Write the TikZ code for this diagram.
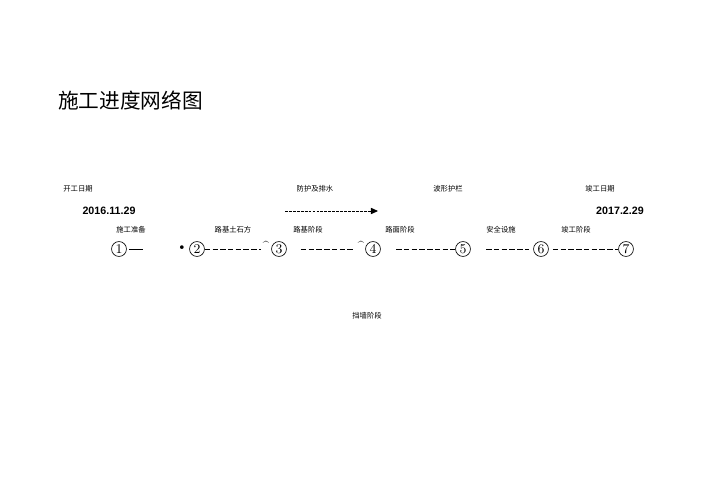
\documentclass[tikz,border=0pt]{standalone}
\usepackage{fontspec}
\setmainfont{Latin Modern Roman}
\newfontfamily\cjk{Noto Sans CJK SC}
\newfontfamily\arial{Liberation Sans}
\usepackage{tikz}
\usetikzlibrary{arrows.meta}

\tikzset{
    etiquette/.style={font=\cjk\fontsize{5.2}{6}\selectfont, inner sep=0pt},
    date/.style={font=\arial\bfseries\fontsize{7.6}{9}\selectfont, inner sep=0pt},
    etape/.style={circle, draw, line width=0.45pt, minimum size=10.6pt, inner sep=0pt,
        font=\fontsize{9.5}{10}\selectfont},
    tiret/.style={line width=0.45pt, dash pattern=on 3.9pt off 1.6pt},
    fleche/.style={line width=0.6pt, dash pattern=on 2pt off 0.8pt,
        -{Triangle[length=5pt,width=4.4pt]}}
}

\begin{document}
\begin{tikzpicture}[x=0.025cm, y=-0.025cm]
                \useasboundingbox (0,0) rectangle (708,500);

                % Titre
                \node[anchor=west, inner sep=0pt, font=\cjk\fontsize{14.7}{16}\selectfont] (titre) at (58,101) {施工进度网络图};

                % Dates et labels du haut
                \node[etiquette] (debut) at (78,189) {开工日期};
                \node[date] (d1) at (109,211) {2016.11.29};
                \node[etiquette] (protec) at (315,189) {防护及排水};
                \node[etiquette] (garde) at (448,189) {波形护栏};
                \node[etiquette] (fin) at (600,189) {竣工日期};
                \node[date] (d2) at (620,211) {2017.2.29};

                % Fleche en pointillés
                \coordinate (a1) at (285,211);
                \coordinate (a2) at (378,211);
                \draw[fleche] (a1) -- (a2);

                % Labels des phases
                \node[etiquette] (prep) at (131,230) {施工准备};
                \node[etiquette] (terr) at (233,230) {路基土石方};
                \node[etiquette] (assise) at (308,230) {路基阶段};
                \node[etiquette] (chaus) at (400,230) {路面阶段};
                \node[etiquette] (secu) at (501,230) {安全设施};
                \node[etiquette] (recep) at (576,230) {竣工阶段};
                \node[etiquette] (mur) at (367,316) {挡墙阶段};

                % Les étapes
                \foreach \n/\x in {1/119,2/197,3/279,4/373,5/463,6/541,7/626} {
                    \node[etape] (n\n) at (\x,249) {\n};
                }

                % Petits symboles
                \node[inner sep=0pt, font=\fontsize{9}{9}\selectfont] (pt) at (182,248) {\textbullet};
                \node[inner sep=0pt, font=\fontsize{8}{8}\selectfont] (c1) at (266,245) {\textasciicircum};
                \node[inner sep=0pt, font=\fontsize{8}{8}\selectfont] (c2) at (361,245) {\textasciicircum};

                % Liaisons
                \coordinate (f1) at (143,249);
                \draw[line width=0.5pt, shorten <=1.5] (n1) -- (f1);
                \draw[tiret, shorten <=0, shorten >=7] (n2) -- (n3);
                \draw[tiret, shorten <=10, shorten >=8] (n3) -- (n4);
                \draw[tiret, shorten <=11] (n4) -- (n5);
                \draw[tiret, shorten <=11, shorten >=3] (n5) -- (n6);
                \draw[tiret, shorten <=3] (n6) -- (n7);
            \end{tikzpicture}
\end{document}
